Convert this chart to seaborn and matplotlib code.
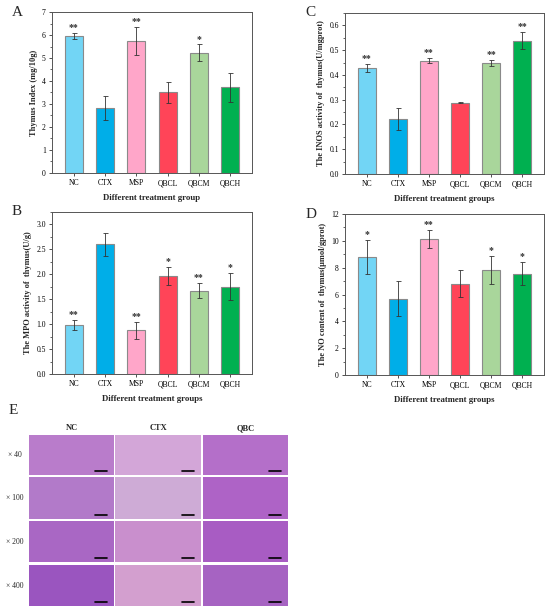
import matplotlib
matplotlib.use("Agg")
import matplotlib.pyplot as plt
import numpy as np
import pandas as pd
import seaborn as sns

sns.set_theme(style="ticks")
plt.rcParams['font.family'] = ['Liberation Serif', 'DejaVu Serif']

# data
groups = ["NC", "CTX", "MSP", "QBCL", "QBCM", "QBCH"]
colors = ["#72d5f5", "#00aee8", "#ffa6c9", "#ff4458", "#a9d69b", "#00b050"]

thymus_index = [5.95, 2.83, 5.75, 3.50, 5.22, 3.72]
thymus_err = [0.13, 0.53, 0.60, 0.47, 0.37, 0.63]
thymus_sig = ["**", "", "**", "", "*", ""]

inos = [0.428, 0.222, 0.458, 0.288, 0.447, 0.538]
inos_err = [0.015, 0.043, 0.010, 0.002, 0.012, 0.034]
inos_sig = ["**", "", "**", "", "**", "**"]

mpo = [0.98, 2.60, 0.88, 1.97, 1.67, 1.75]
mpo_err = [0.10, 0.23, 0.17, 0.18, 0.15, 0.27]
mpo_sig = ["**", "", "**", "*", "**", "*"]

no_content = [8.8, 5.7, 10.15, 6.8, 7.8, 7.55]
no_err = [1.25, 1.30, 0.68, 1.00, 1.05, 0.85]
no_sig = ["*", "", "**", "", "*", "*"]

# histology panel
mags = ["× 40", "× 100", "× 200", "× 400"]
hist_groups = ["NC", "CTX", "QBC"]
tissue_colors = [
    ["#b97ccb", "#d3a6d8", "#b46fc9"],
    ["#b27ac9", "#ceabd6", "#ae63c6"],
    ["#a967c4", "#c98fcd", "#a85cc3"],
    ["#9a55bf", "#d39fcf", "#a663c2"],
]

W, H = 550, 611
fig = plt.figure(figsize=(W / 100, H / 100), dpi=100)


def px_axes(left, top, right, bottom):
    return fig.add_axes([left / W, 1 - bottom / H, (right - left) / W, (bottom - top) / H])


def bar_panel(ax, vals, errs, sig, ylim, major, minor, ylabel, xlabel, letter, fmt):
    df = pd.DataFrame({"group": groups, "value": vals})
    sns.barplot(data=df, x="group", y="value", hue="group", palette=colors, saturation=1,
                width=0.58, edgecolor="#8a8a8a", linewidth=0.8, legend=False, ax=ax)
    ax.errorbar(range(len(groups)), vals, yerr=errs, fmt="none", ecolor="#333333",
                elinewidth=0.6, capsize=1.8, capthick=0.6)
    for i, (v, e, s) in enumerate(zip(vals, errs, sig)):
        if s:
            ax.text(i, v + e + ylim[1] * 0.005, s, ha="center", va="bottom",
                    fontsize=7, fontweight="bold", color="#333333")
    ax.set_ylim(*ylim)
    ax.set_xlim(-0.7, 5.7)
    ax.set_yticks(np.arange(0, ylim[1] + 1e-9, major))
    ax.set_yticks(np.arange(0, ylim[1] + 1e-9, minor), minor=True)
    ax.yaxis.set_major_formatter(matplotlib.ticker.FormatStrFormatter(fmt))
    ax.tick_params(axis="both", labelsize=5.5, length=2.5, width=0.6, pad=2,
                   colors="#333333", labelcolor="black")
    ax.tick_params(axis="y", which="minor", length=1.5, width=0.5)
    for sp in ax.spines.values():
        sp.set_visible(True)
        sp.set_linewidth(0.7)
        sp.set_color("#555555")
    ax.set_ylabel(ylabel, fontsize=6, fontweight="bold", labelpad=3)
    ax.set_xlabel(xlabel, fontsize=6.3, fontweight="bold", labelpad=5)
    ax.text(-0.2, 1.0, letter, transform=ax.transAxes, fontsize=11, va="center")


axA = px_axes(52, 12, 252, 173)
bar_panel(axA, thymus_index, thymus_err, thymus_sig, (0, 7), 1, 0.5,
          "Thymus Index (mg/10g)", "Different treatment group", "A", "%d")

axC = px_axes(345, 13, 544, 174)
bar_panel(axC, inos, inos_err, inos_sig, (0, 0.65), 0.1, 0.05,
          "The INOS activity of  thymus(U/mgprot)", "Different treatment groups", "C", "%.1f")

axB = px_axes(52, 212, 252, 374)
bar_panel(axB, mpo, mpo_err, mpo_sig, (0, 3.25), 0.5, 0.25,
          "The MPO activity of  thymus(U/g)", "Different treatment groups", "B", "%.1f")

axD = px_axes(345, 214, 544, 375)
bar_panel(axD, no_content, no_err, no_sig, (0, 12), 2, 1,
          "The NO content of  thymus(μmol/gprot)", "Different treatment groups", "D", "%d")

# panel E: histology grid (flat tissue-coloured tiles)
col_x = [(29, 114), (115, 201), (203, 288)]
row_y = [(435, 475), (477, 519), (521, 562), (565, 606)]
fig.text(9 / W, 1 - 410 / H, "E", fontsize=11, va="center")
for j, name in enumerate(hist_groups):
    cx = (col_x[j][0] + col_x[j][1]) / 2
    fig.text(cx / W, 1 - 428 / H, name, fontsize=6, fontweight="bold", ha="center", va="center")
for i, mag in enumerate(mags):
    cy = (row_y[i][0] + row_y[i][1]) / 2
    fig.text(15 / W, 1 - cy / H, mag, fontsize=5.5, ha="center", va="center")
    for j in range(len(hist_groups)):
        ax = px_axes(col_x[j][0], row_y[i][0], col_x[j][1], row_y[i][1])
        ax.set_facecolor(tissue_colors[i][j])
        ax.set_xticks([])
        ax.set_yticks([])
        for sp in ax.spines.values():
            sp.set_visible(False)
        ax.plot([0.78, 0.92], [0.1, 0.1], color="black", lw=1.2, transform=ax.transAxes)

fig.savefig("out.png", dpi=100)
